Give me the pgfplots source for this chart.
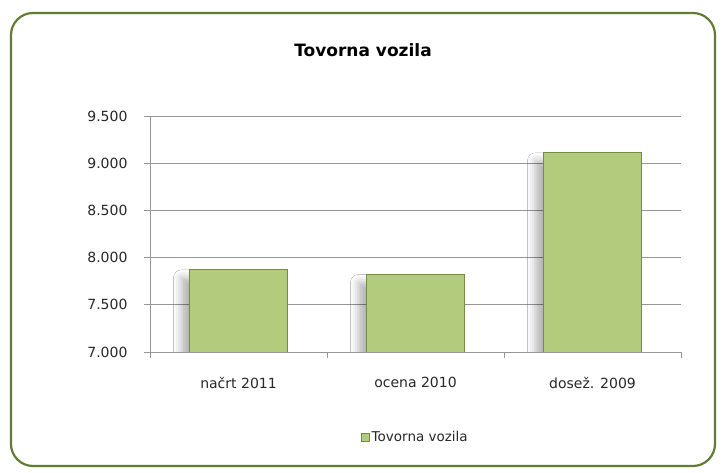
\documentclass[border=0pt]{standalone}
\usepackage{fontspec}
\setmainfont{DejaVu Sans}
\usepackage{pgfplots}
\pgfplotsset{compat=1.18}
\usetikzlibrary{shadows.blur}

\definecolor{frame}{RGB}{98,124,54}
\definecolor{barfill}{RGB}{178,203,125}
\definecolor{baredge}{RGB}{118,140,70}
\definecolor{gridgray}{RGB}{150,150,150}
\definecolor{txt}{RGB}{40,40,40}

\begin{document}
\begin{tikzpicture}[x=1pt,y=1pt]
\useasboundingbox (0,0) rectangle (726,473);
\fill[white] (0,0) rectangle (726,473);
\draw[frame, line width=2.2pt, rounded corners=22pt] (11,7) rectangle (715,460);
\node[font=\fontsize{17}{19}\selectfont\bfseries, text=black] at (363,423) {Tovorna vozila};

\begin{axis}[
    at={(150pt,121pt)}, anchor=south west,
    scale only axis,
    width=531pt, height=236pt,
    xmin=-0.5, xmax=2.5,
    ymin=7000, ymax=9500,
    ytick={7000,7500,8000,8500,9000,9500},
    yticklabels={7.000,7.500,8.000,8.500,9.000,9.500},
    xtick={0,1,2},
    xticklabels={načrt 2011, ocena 2010, dosež. 2009},
    major x tick style={draw=none},
    minor xtick={-0.5,0.5,1.5,2.5},
    minor tick length=6pt,
    major tick length=6pt,
    tick align=outside,
    tick style={gridgray, line width=0.8pt},
    ymajorgrids,
    grid style={gridgray, line width=0.9pt},
    axis x line*=bottom, axis y line*=left,
    axis line style={gridgray, line width=0.9pt, -},
    tick label style={font=\fontsize{14}{16}\selectfont, text=txt},
    yticklabel style={xshift=-13pt},
    xticklabel style={yshift=-16pt},
    ybar, bar width=98pt, bar shift=0pt,
    legend style={draw=none, at={(0.5,-0.36)}, anchor=center,
        font=\fontsize{13.5}{15}\selectfont, text=txt},
    legend image code/.code={
        \fill[barfill, draw=baredge, line width=0.5pt] (0pt,-4pt) rectangle (8pt,4pt);},
]
\addplot[fill=barfill, draw=baredge, line width=0.9pt, forget plot, bar shift=0pt,
    blur shadow={shadow xshift=-8pt, shadow yshift=-8pt, shadow blur radius=8pt, shadow opacity=30}]
    coordinates {(0,7870) (1,7820) (2,9110)};
\addlegendimage{fill=barfill, draw=baredge}
\addlegendentry{Tovorna vozila}
\end{axis}
\end{tikzpicture}
\end{document}
